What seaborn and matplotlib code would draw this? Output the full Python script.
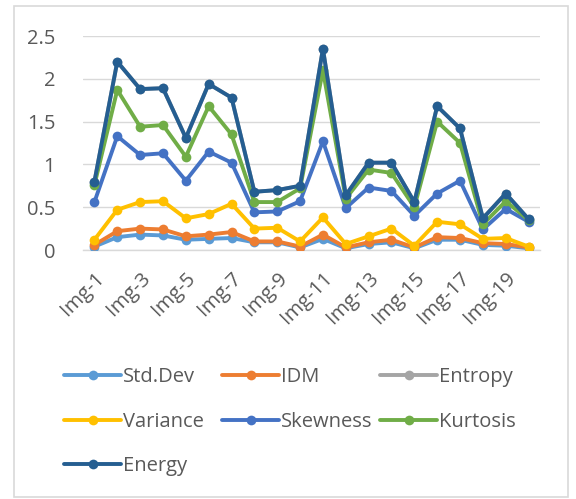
import matplotlib
matplotlib.use("Agg")
import matplotlib.pyplot as plt
from matplotlib.patches import Rectangle
import pandas as pd
import seaborn as sns

images = [f"Img-{i}" for i in range(1, 21)]

std_dev = [0.04, 0.15, 0.18, 0.17, 0.12, 0.13, 0.14, 0.09, 0.09, 0.03,
           0.13, 0.02, 0.07, 0.09, 0.02, 0.12, 0.12, 0.06, 0.05, 0.02]
idm = [0.06, 0.22, 0.25, 0.24, 0.16, 0.18, 0.21, 0.10, 0.10, 0.04,
       0.18, 0.03, 0.09, 0.12, 0.03, 0.15, 0.14, 0.08, 0.07, 0.03]
entropy = [0.80, 2.20, 1.88, 1.89, 1.31, 1.94, 1.78, 0.68, 0.70, 0.75,
           2.35, 0.64, 1.02, 1.02, 0.56, 1.68, 1.42, 0.37, 0.66, 0.36]
variance = [0.12, 0.47, 0.56, 0.57, 0.37, 0.42, 0.54, 0.25, 0.26, 0.10,
            0.38, 0.07, 0.16, 0.25, 0.05, 0.33, 0.30, 0.13, 0.14, 0.04]
skewness = [0.56, 1.33, 1.11, 1.13, 0.81, 1.15, 1.02, 0.44, 0.45, 0.57,
            1.27, 0.49, 0.73, 0.69, 0.40, 0.66, 0.81, 0.24, 0.48, 0.33]
kurtosis = [0.76, 1.87, 1.44, 1.46, 1.09, 1.68, 1.35, 0.56, 0.56, 0.72,
            2.10, 0.60, 0.94, 0.90, 0.50, 1.50, 1.25, 0.30, 0.57, 0.35]
energy = [0.80, 2.20, 1.88, 1.89, 1.31, 1.94, 1.78, 0.68, 0.70, 0.75,
          2.35, 0.64, 1.02, 1.02, 0.56, 1.68, 1.42, 0.37, 0.66, 0.36]

series_names = ["Std.Dev", "IDM", "Entropy", "Variance", "Skewness", "Kurtosis", "Energy"]
series_values = [std_dev, idm, entropy, variance, skewness, kurtosis, energy]
colors = ["#5B9BD5", "#ED7D31", "#A5A5A5", "#FFC000", "#4472C4", "#70AD47", "#255E91"]
y_ticks = [0, 0.5, 1, 1.5, 2, 2.5]
y_tick_labels = ["0", "0.5", "1", "1.5", "2", "2.5"]

rows = []
for name, vals in zip(series_names, series_values):
    for pos, (img, v) in enumerate(zip(images, vals)):
        rows.append({"pos": pos, "image": img, "series": name, "value": v})
df = pd.DataFrame(rows)

sns.set_theme(style="white")
plt.rcParams["font.family"] = ["Open Sans", "DejaVu Sans"]
text_color = "#595959"
grid_color = "#D9D9D9"
W, H = 576, 499

fig = plt.figure(figsize=(W / 100, H / 100), dpi=100)
ax = fig.add_axes([83 / W, 1 - 250 / H, 457 / W, 214 / H])

for name, color in zip(series_names, colors):
    sns.lineplot(data=df[df["series"] == name], x="pos", y="value",
                 color=color, linewidth=2.8, marker="o", markersize=7,
                 markeredgewidth=0, label=name, ax=ax, zorder=3)

ax.set_xlim(-0.5, len(images) - 0.5)
ax.set_ylim(0, 2.5)
ax.set_yticks(y_ticks)
ax.set_yticklabels(y_tick_labels)
ax.set_xticks(range(0, len(images), 2))
ax.set_xticklabels(images[::2], rotation=45, ha="right", rotation_mode="anchor")
ax.tick_params(axis="both", length=0, labelsize=14.5, colors=text_color)
ax.tick_params(axis="y", pad=20)
ax.tick_params(axis="x", pad=13)
ax.set_xlabel("")
ax.set_ylabel("")
ax.grid(axis="y", color=grid_color, linewidth=1, zorder=0)
ax.set_axisbelow(True)
for side in ["left", "right", "top"]:
    ax.spines[side].set_visible(False)
ax.spines["bottom"].set_color(grid_color)
ax.spines["bottom"].set_linewidth(1)

handles, labels = ax.get_legend_handles_labels()
lookup = dict(zip(labels, handles))
if ax.legend_ is not None:
    ax.legend_.remove()

# legend laid out row by row in three fixed-width columns
legend_columns = [["Std.Dev", "Variance", "Energy"],
                  ["IDM", "Skewness"],
                  ["Entropy", "Kurtosis"]]
column_x = [64, 222, 380]
for names, x0 in zip(legend_columns, column_x):
    leg = fig.legend([lookup[n] for n in names], names, loc="upper left",
                     bbox_to_anchor=(x0 / W, 1 - 367 / H), frameon=False,
                     fontsize=14.5, handlelength=2.85, handletextpad=0.08,
                     labelspacing=1.22, borderpad=0, borderaxespad=0)
    for t in leg.get_texts():
        t.set_color(text_color)

fig.patches.append(Rectangle((14 / W, 2 / H), 554 / W, 491 / H,
                             transform=fig.transFigure, fill=False,
                             edgecolor=grid_color, linewidth=1.2))

fig.savefig("out.png", dpi=100, facecolor="white")
